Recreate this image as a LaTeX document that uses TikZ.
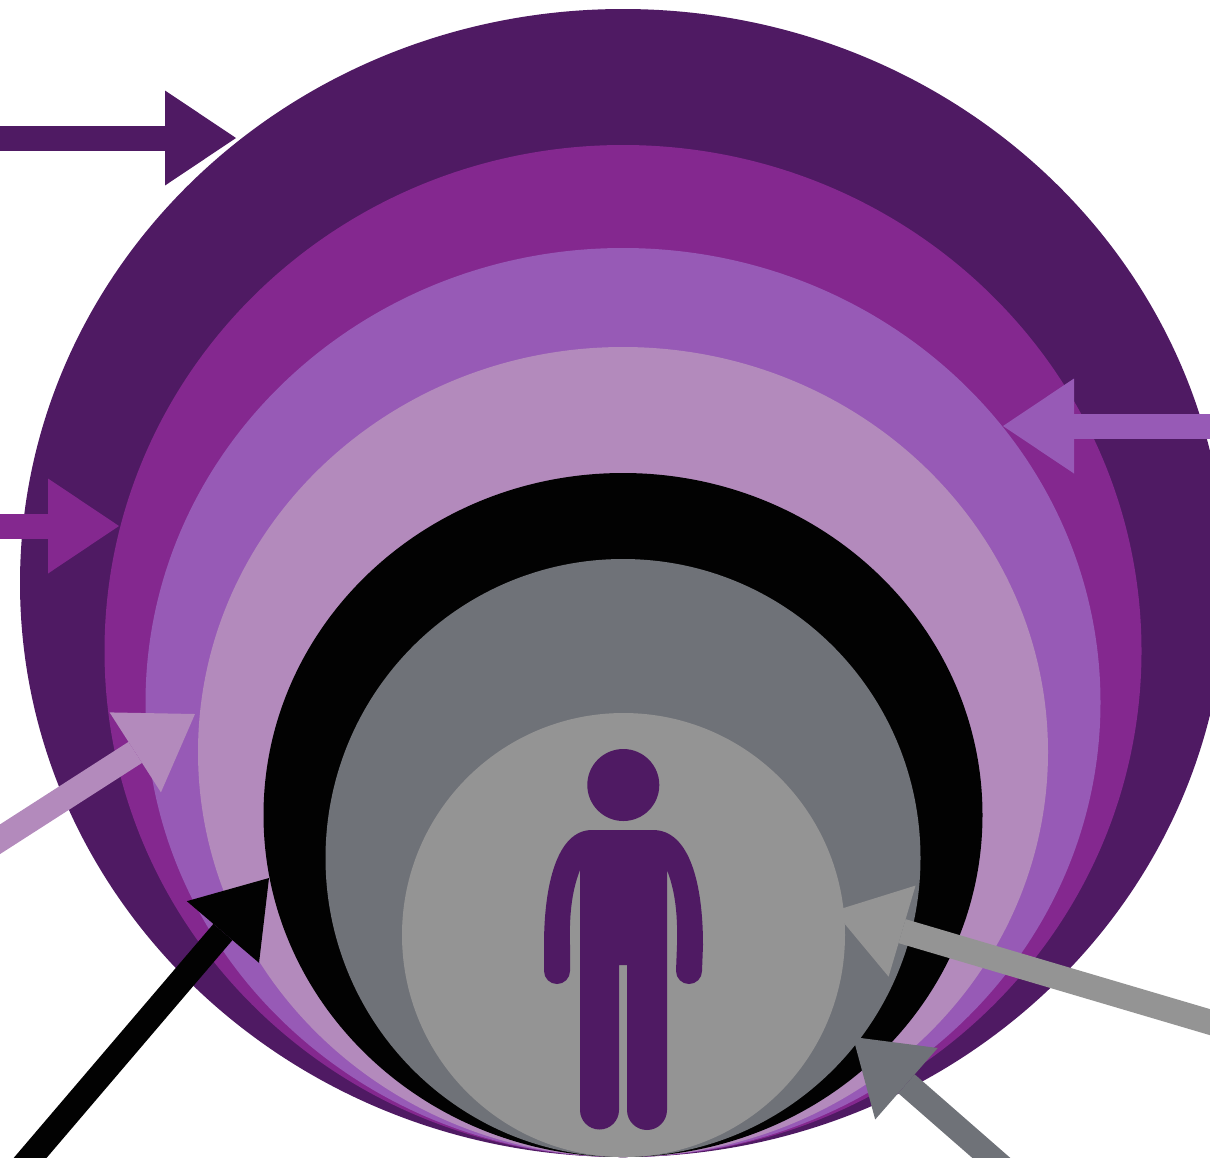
\documentclass[tikz,border=0pt]{standalone}
\usepackage{tikz}
\usetikzlibrary{arrows.meta}

\definecolor{deeppurple}{HTML}{4F1A63}
\definecolor{midpurple}{HTML}{84288F}
\definecolor{softpurple}{HTML}{975AB6}
\definecolor{lilac}{HTML}{B38ABC}
\definecolor{nearblack}{HTML}{020202}
\definecolor{slategrey}{HTML}{6F7278}
\definecolor{lightgrey}{HTML}{949494}

\begin{document}
\begin{tikzpicture}[
    x=0.02cm,
    y=-0.02cm,
    pointer/.style={
	line width=0.5cm,
	-{Triangle[length=1.42cm,width=1.9cm,line width=0pt]}
    }
]
	\useasboundingbox (0,0) rectangle (1210,1157);
	\clip (0,0) rectangle (1210,1157);

	% Layers, outermost first
	\fill[deeppurple] (623,583) ellipse [x radius=603, y radius=574];
	\fill[midpurple] (623,651) ellipse [x radius=518.5, y radius=506];
	\fill[softpurple] (623,702.5) ellipse [x radius=477.5, y radius=454.5];
	\fill[lilac] (623,752) ellipse [x radius=425, y radius=405];
	\fill[nearblack] (623,815) ellipse [x radius=359.5, y radius=342];
	\fill[slategrey] (623,858) ellipse [x radius=297.5, y radius=299];
	\fill[lightgrey] (623.5,935) ellipse [x radius=221.5, y radius=222];

	% Person
	\fill[deeppurple] (623.3,785) circle [radius=36];
	\fill[deeppurple] (592,830) -- (653,830)
	    .. controls (690,830) and (703,885) .. (703,945)
	    -- (702,971) arc [start angle=0, end angle=180, radius=13]
	    -- (677,945) .. controls (678,910) and (674,888) .. (667,870)
	    -- (667,1110) arc [start angle=0, end angle=180, radius=20]
	    -- (627,965) -- (619,965)
	    -- (619,1110) arc [start angle=0, end angle=180, radius=19.5]
	    -- (580,870) .. controls (573,888) and (569,910) .. (570,945)
	    -- (570,971) arc [start angle=0, end angle=180, radius=13]
	    -- (544,945) .. controls (544,885) and (557,830) .. (592,830) -- cycle;

	% Free ends
	\coordinate (outerstart) at (0,138);
	\coordinate (outertip) at (236,138);
	\coordinate (midstart) at (0,526);
	\coordinate (midtip) at (119,526);
	\coordinate (softstart) at (1230,426);
	\coordinate (softtip) at (1003,426);
	\coordinate (lilacstart) at (-30,858.5);
	\coordinate (lilactip) at (195,714);
	\coordinate (blackstart) at (7,1185);
	\coordinate (blacktip) at (269,878);
	\coordinate (lightstart) at (1240,1031);
	\coordinate (lighttip) at (834,911);
	\coordinate (slatestart) at (1020,1183);
	\coordinate (slatetip) at (853,1037);

	% Pointers
	\draw[pointer, deeppurple] (outerstart) -- (outertip);
	\draw[pointer, midpurple] (midstart) -- (midtip);
	\draw[pointer, softpurple] (softstart) -- (softtip);
	\draw[pointer, lilac] (lilacstart) -- (lilactip);
	\draw[pointer, nearblack] (blackstart) -- (blacktip);
	\draw[pointer, lightgrey] (lightstart) -- (lighttip);
	\draw[pointer, slategrey] (slatestart) -- (slatetip);
\end{tikzpicture}
\end{document}
